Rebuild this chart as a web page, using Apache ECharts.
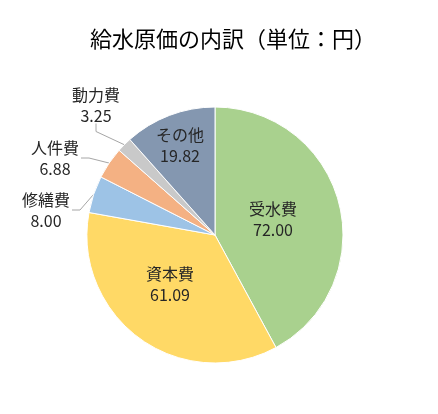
<!DOCTYPE html>
<html>
<head>
<meta charset="utf-8">
<script src="https://cdn.jsdelivr.net/npm/echarts@6/dist/echarts.min.js"></script>
<style>
html,body{margin:0;padding:0;background:#fff;}
#c{width:438px;height:414px;}
</style>
</head>
<body>
<div id="c"></div>
<script>
const titleText = '給水原価の内訳（単位：円）';
const categories = ['受水費', '資本費', '修繕費', '人件費', '動力費', 'その他'];
const values = [72.00, 61.09, 8.00, 6.88, 3.25, 19.82];
const valueLabels = ['72.00', '61.09', '8.00', '6.88', '3.25', '19.82'];
const colors = ['#A9D18E', '#FFD966', '#9DC3E6', '#F4B183', '#C9C9C9', '#8497B0'];
const insideFlags = [true, true, false, false, false, true];
// label block centres (layout, not data)
const labelCentres = [[273, 219], [170, 284], [46, 210], [55, 158], [96, 105], [180, 145]];

const font = '"Noto Sans CJK JP", "Noto Sans", sans-serif';

const data = categories.map((name, i) => {
  const inside = insideFlags[i];
  return {
    name: name,
    value: values[i],
    itemStyle: { color: colors[i] },
    label: {
      position: inside ? 'inside' : 'outside',
      formatter: '{a|' + name + '}\n{a|' + valueLabels[i] + '}'
    },
    labelLine: { show: !inside }
  };
});

const chart = echarts.init(document.getElementById('c'));
chart.setOption({
  backgroundColor: '#ffffff',
  animation: false,
  title: {
    text: titleText,
    left: 90,
    top: 28,
    padding: 0,
    textStyle: { fontFamily: font, fontSize: 22, fontWeight: 'normal', color: '#000000' }
  },
  series: [{
    type: 'pie',
    center: [215, 235],
    radius: [0, 128],
    startAngle: 90,
    clockwise: true,
    data: data,
    itemStyle: { borderColor: '#ffffff', borderWidth: 1 },
    label: {
      color: '#262626',
      fontFamily: font,
      fontSize: 16,
      rich: {
        a: { fontFamily: font, fontSize: 16, color: '#262626', lineHeight: 21, width: 52, align: 'center' }
      }
    },
    labelLine: {
      length: 14,
      length2: 8,
      lineStyle: { color: '#A6A6A6', width: 1 }
    },
    labelLayout: function (params) {
      const c = labelCentres[params.dataIndex];
      return { x: c[0], y: c[1], align: 'center', verticalAlign: 'middle' };
    },
    emphasis: { disabled: true }
  }]
});
</script>
</body>
</html>
